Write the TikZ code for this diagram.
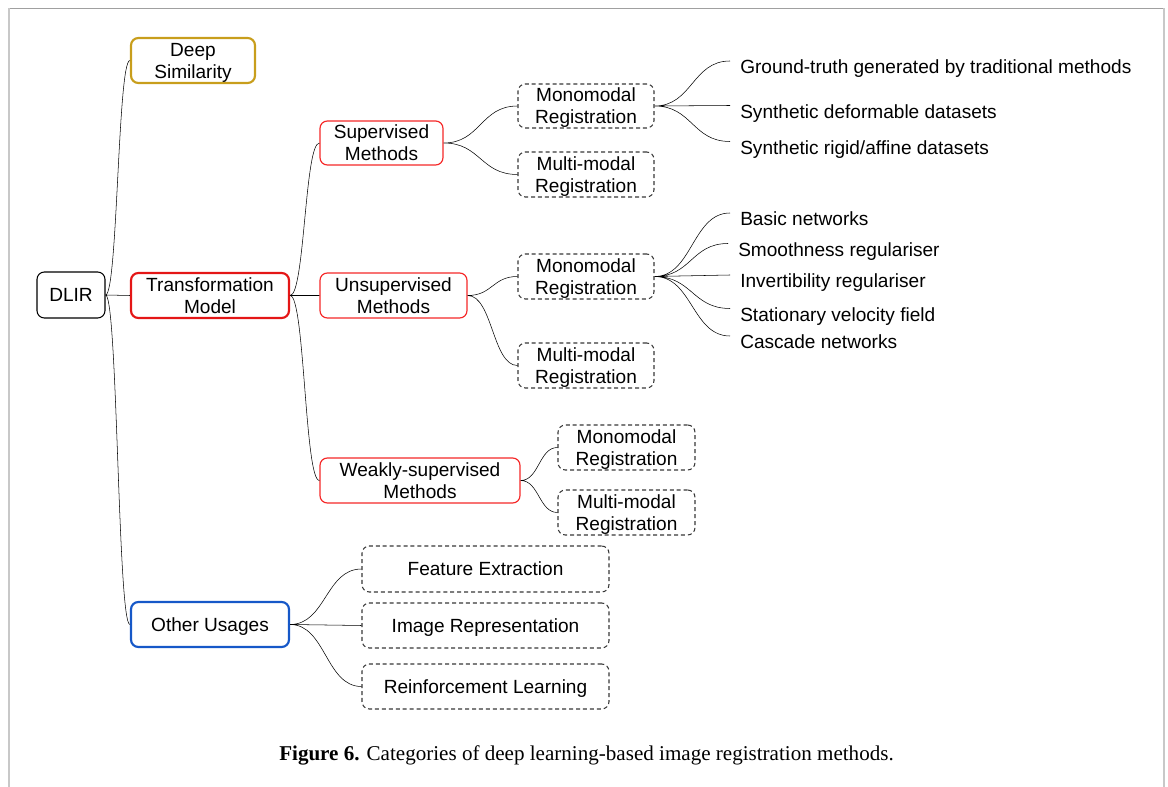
\documentclass[tikz,border=0pt]{standalone}
\usepackage{fontspec}
\setmainfont{Liberation Sans}
\newfontfamily\capfont{Liberation Serif}
\usetikzlibrary{calc}
\definecolor{dsgold}{RGB}{200,158,28}
\definecolor{tmred}{RGB}{228,22,22}
\definecolor{thinred}{RGB}{245,40,40}
\definecolor{oublue}{RGB}{22,88,200}
\definecolor{dashgray}{RGB}{55,55,55}
\definecolor{frametop}{RGB}{160,160,160}
\definecolor{frameside}{RGB}{200,200,200}
\begin{document}
\begin{tikzpicture}[x=0.75pt,y=-0.75pt,
  txt/.style={font=\fontsize{14.3pt}{16.5pt}\selectfont},
  sz/.style 2 args={minimum width=#1*0.75pt, minimum height=#2*0.75pt},
  box/.style={txt, draw, rounded corners=5.5pt, inner sep=0pt, align=center, text depth=0pt},
  rootbox/.style={box, line width=0.8pt, draw=black},
  mainbox/.style={box, line width=1.6pt},
  subbox/.style={box, line width=0.9pt, draw=thinred},
  dashbox/.style={box, line width=0.8pt, draw=dashgray, dash pattern=on 3pt off 2.2pt},
  leaf/.style={txt, anchor=west, inner xsep=7.5pt, inner ysep=0pt, text height=19.2pt, text depth=0pt},
  branch/.style={line width=0.9pt, to path={let \p1=(\tikztostart), \p2=(\tikztotarget) in
      .. controls ({0.5*\x1+0.5*\x2},\y1) and ({0.5*\x1+0.5*\x2},\y2) .. (\tikztotarget)}}
]
\useasboundingbox (0,0) rectangle (1168,787);
% page frame
\draw[frametop, line width=0.8pt] (8,8.5) -- (1164,8.5);
\draw[frameside, line width=1.2pt] (9,8.5) -- (9,787);
\draw[frameside, line width=0.8pt] (1164,8.5) -- (1164,787);

% root and first level
\node[rootbox, sz={68}{46}] (dlir) at (71,295) {DLIR};
\node[mainbox, draw=dsgold, sz={124}{45}] (ds) at (193,60.5) {Deep\\Similarity};
\node[mainbox, draw=tmred, sz={158}{45}] (tm) at (210,295.5) {Transformation\\Model};
\node[mainbox, draw=oublue, sz={158}{45}] (ou) at (210,624.5) {Other Usages};

% learning paradigms
\node[subbox, sz={123}{44}] (sup) at (381.5,143) {Supervised\\Methods};
\node[subbox, sz={147}{45}] (uns) at (393.5,295.5) {Unsupervised\\Methods};
\node[subbox, sz={200}{45}] (weak) at (420,480.5) {Weakly-supervised\\Methods};

% registration modalities
\node[dashbox, sz={136}{44}] (sm1) at (586,106) {Monomodal\\Registration};
\node[dashbox, sz={136}{45}] (sm2) at (586,174.5) {Multi-modal\\Registration};
\node[dashbox, sz={136}{45}] (um1) at (586,276.5) {Monomodal\\Registration};
\node[dashbox, sz={136}{45}] (um2) at (586,365.5) {Multi-modal\\Registration};
\node[dashbox, sz={137}{45}] (wm1) at (626.5,447.5) {Monomodal\\Registration};
\node[dashbox, sz={137}{45}] (wm2) at (626.5,512.5) {Multi-modal\\Registration};

% other usages
\node[dashbox, sz={247}{46}] (fe) at (485.5,569) {Feature Extraction};
\node[dashbox, sz={247}{45}] (ir) at (485.5,625.5) {Image Representation};
\node[dashbox, sz={247}{45}] (rl) at (485.5,686.5) {Reinforcement Learning};

% leaves
\node[leaf] (g1) at (730,61) {Ground-truth generated by traditional methods};
\node[leaf] (g2) at (730,105.5) {Synthetic deformable datasets};
\node[leaf] (g3) at (730,141.5) {Synthetic rigid/affine datasets};
\node[leaf] (u1) at (730,213) {Basic networks};
\node[leaf] (u2) at (728,243.5) {Smoothness regulariser};
\node[leaf] (u3) at (730,275) {Invertibility regulariser};
\node[leaf] (u4) at (730,308.5) {Stationary velocity field};
\node[leaf] (u5) at (730,336) {Cascade networks};

% connectors
\draw (dlir.east) to[branch] (ds.west)
      (dlir.east) to[branch] (tm.west)
      (dlir.east) to[branch] (ou.west);
\draw (tm.east) to[branch] (sup.west)
      (tm.east) to[branch] (uns.west)
      (tm.east) to[branch] (weak.west);
\draw (sup.east) to[branch] (sm1.west)
      (sup.east) to[branch] (sm2.west);
\draw (uns.east) to[branch] (um1.west)
      (uns.east) to[branch] (um2.west);
\draw (weak.east) to[branch] (wm1.west)
      (weak.east) to[branch] (wm2.west);
\draw (ou.east) to[branch] (fe.west)
      (ou.east) to[branch] (ir.west)
      (ou.east) to[branch] (rl.west);
\draw (sm1.east) to[branch] (g1.west)
      (sm1.east) to[branch] (g2.west)
      (sm1.east) to[branch] (g3.west);
\draw (um1.east) to[branch] (u1.west)
      (um1.east) to[branch] (u2.west)
      (um1.east) to[branch] (u3.west)
      (um1.east) to[branch] (u4.west)
      (um1.east) to[branch] (u5.west);

% caption
\node[font=\capfont\fontsize{15.8pt}{18pt}\selectfont, anchor=base, inner sep=0pt] (cap) at (586.5,760)
  {\textbf{Figure 6.} Categories of deep learning-based image registration methods.};
\end{tikzpicture}
\end{document}
